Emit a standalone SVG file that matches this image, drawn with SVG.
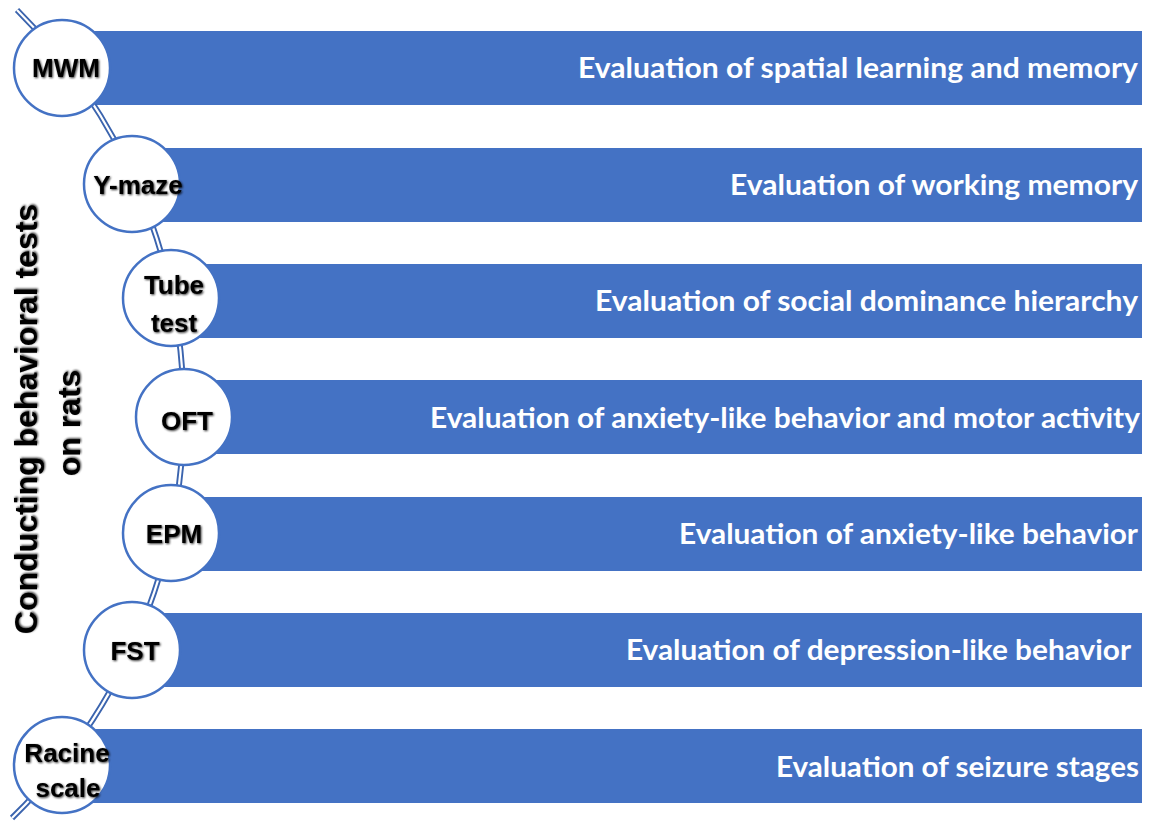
<svg xmlns="http://www.w3.org/2000/svg" width="1152" height="822" viewBox="0 0 1152 822">
<defs>
<style>
.bar{fill:#4472C4;}
.circ{fill:#ffffff;stroke:#4472C4;stroke-width:2.5;}
.desc{font-family:Lato,"Open Sans","Liberation Sans",sans-serif;font-weight:bold;font-size:28px;fill:#ffffff;}
.lbl{font-family:"Liberation Sans",Arial,sans-serif;font-weight:bold;font-size:26px;fill:#000000;text-anchor:middle;filter:url(#sh);}
.side{font-family:"Liberation Sans",Arial,sans-serif;font-weight:bold;font-size:32px;fill:#000000;text-anchor:middle;filter:url(#sh);}
.outer{fill:none;stroke:#3B64AE;stroke-width:6;}
.inner{fill:none;stroke:#ffffff;stroke-width:2.2;}
</style>
<filter id="sh" x="-10%" y="-20%" width="120%" height="140%">
<feGaussianBlur in="SourceAlpha" stdDeviation="1.3" result="b"/>
<feOffset in="b" dx="0.8" dy="0.8" result="o"/>
<feComponentTransfer in="o" result="s"><feFuncA type="linear" slope="0.8"/></feComponentTransfer>
<feMerge><feMergeNode in="s"/><feMergeNode in="SourceGraphic"/></feMerge>
</filter>
</defs>
<rect width="1152" height="822" fill="#ffffff"/>

<g id="bars">
<rect class="bar" x="62" y="31" width="1080" height="74"/>
<rect class="bar" x="132" y="148" width="1010" height="74"/>
<rect class="bar" x="171" y="264" width="971" height="74"/>
<rect class="bar" x="184" y="380" width="958" height="74"/>
<rect class="bar" x="171" y="497" width="971" height="74"/>
<rect class="bar" x="132" y="613" width="1010" height="74"/>
<rect class="bar" x="62" y="729" width="1080" height="74"/>
</g>

<g id="connectors">
<path class="outer" d="M17,10 A567,567 0 0 1 12,818"/>
<path class="inner" d="M17,10 A567,567 0 0 1 12,818"/>
</g>

<g id="side-title">
<text class="side" transform="translate(37,419) rotate(-90)" x="0" y="0">Conducting behavioral tests</text>
<text class="side" transform="translate(80,423) rotate(-90)" x="0" y="0">on rats</text>
</g>

<g id="node-mwm">
<circle class="circ" cx="62" cy="68" r="48"/>
<text class="lbl" x="66" y="77">MWM</text>
<text class="desc" x="578" y="78" textLength="560" lengthAdjust="spacingAndGlyphs">Evaluation of spatial learning and memory</text>
</g>
<g id="node-ymaze">
<circle class="circ" cx="132" cy="184" r="48"/>
<text class="lbl" x="138" y="194">Y-maze</text>
<text class="desc" x="730" y="195" textLength="408" lengthAdjust="spacingAndGlyphs">Evaluation of working memory</text>
</g>
<g id="node-tube">
<circle class="circ" cx="171" cy="298" r="48"/>
<text class="lbl" x="174" y="294">Tube</text>
<text class="lbl" x="174" y="332">test</text>
<text class="desc" x="595" y="311" textLength="543" lengthAdjust="spacingAndGlyphs">Evaluation of social dominance hierarchy</text>
</g>
<g id="node-oft">
<circle class="circ" cx="184" cy="417" r="48"/>
<text class="lbl" x="187" y="430">OFT</text>
<text class="desc" x="430" y="428" textLength="710" lengthAdjust="spacingAndGlyphs">Evaluation of anxiety-like behavior and motor activity</text>
</g>
<g id="node-epm">
<circle class="circ" cx="171" cy="533" r="48"/>
<text class="lbl" x="174" y="543">EPM</text>
<text class="desc" x="679" y="544" textLength="459" lengthAdjust="spacingAndGlyphs">Evaluation of anxiety-like behavior</text>
</g>
<g id="node-fst">
<circle class="circ" cx="132" cy="650" r="48"/>
<text class="lbl" x="135" y="660">FST</text>
<text class="desc" x="626" y="660" textLength="505" lengthAdjust="spacingAndGlyphs">Evaluation of depression-like behavior</text>
</g>
<g id="node-racine">
<circle class="circ" cx="62" cy="765" r="48"/>
<text class="lbl" x="67" y="762">Racine</text>
<text class="lbl" x="68" y="797">scale</text>
<text class="desc" x="776" y="777" textLength="363" lengthAdjust="spacingAndGlyphs">Evaluation of seizure stages</text>
</g>
</svg>
